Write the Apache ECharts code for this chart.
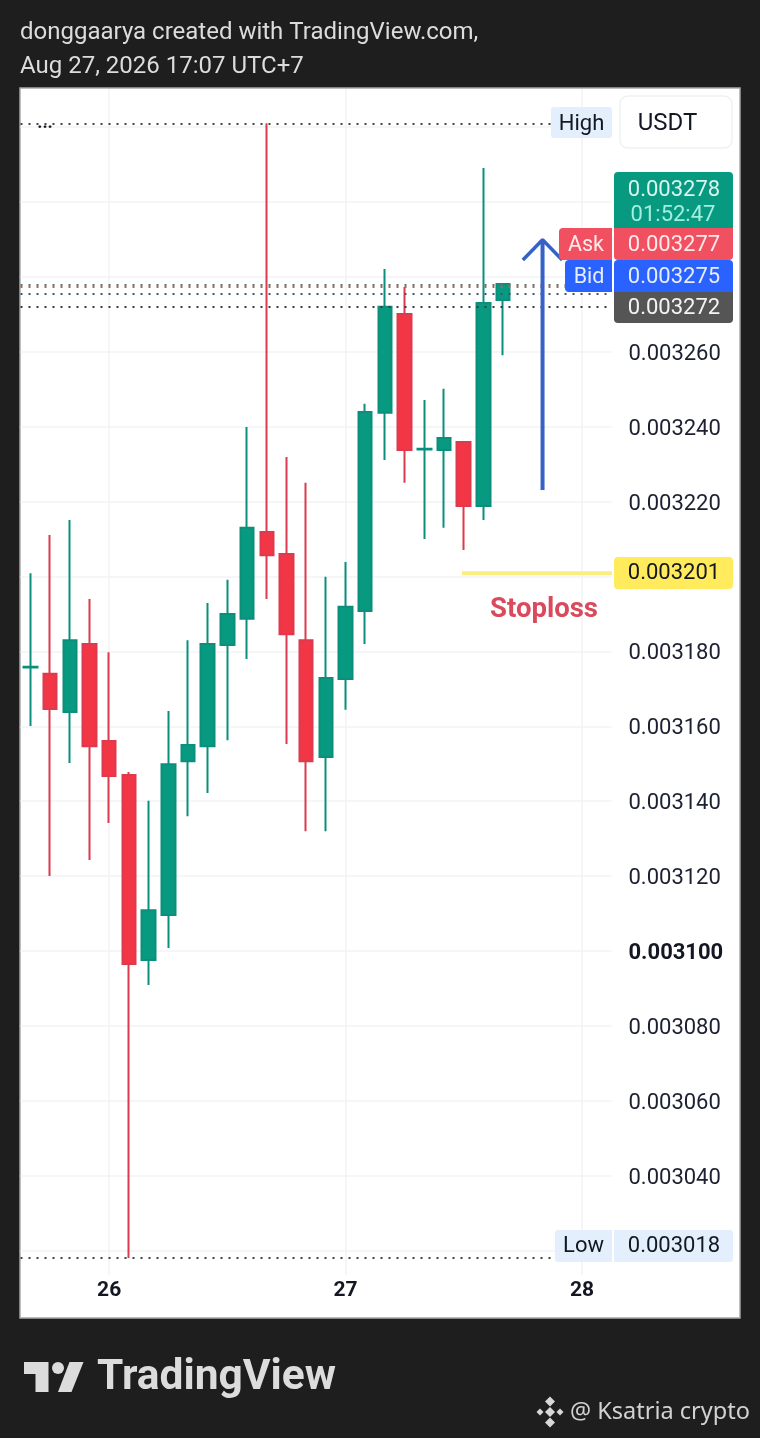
<!DOCTYPE html>
<html><head><meta charset="utf-8">
<style>html,body{margin:0;padding:0;background:#1e1e1e}#c{width:760px;height:1438px}</style>
<script src="https://cdn.jsdelivr.net/npm/echarts@6/dist/echarts.min.js"></script>
</head><body><div id="c"></div>
<script>
const opens  = [3175.7,3174.0,3163.8,3182.0,3156.1,3147.0,3097.6,3109.6,3150.7,3154.7,3181.7,3188.7,3211.9,3206.0,3183.0,3151.8,3172.6,3190.8,3243.7,3270.1,3233.9,3233.8,3235.9,3218.8,3273.8];
const closes = [3175.9,3164.6,3183.0,3154.7,3146.7,3096.5,3110.9,3149.9,3155.0,3182.0,3190.0,3213.0,3205.7,3184.6,3150.7,3172.9,3191.9,3243.9,3272.0,3233.8,3234.1,3237.0,3218.8,3273.0,3278.1];
const lows   = [3160.1,3120.0,3150.2,3124.3,3134.2,3018.0,3090.9,3100.8,3136.0,3142.2,3156.3,3178.0,3194.0,3155.3,3132.0,3132.0,3164.4,3182.0,3231.1,3225.0,3210.0,3213.0,3207.1,3215.1,3259.1];
const highs  = [3200.9,3211.1,3215.1,3194.0,3179.8,3147.8,3140.1,3164.1,3183.0,3192.9,3199.1,3239.9,3321.0,3231.9,3225.0,3199.9,3203.9,3246.1,3282.1,3277.3,3247.1,3250.1,3235.9,3309.1,3278.1];
const categories = ['','','','','26','','','','','','','','','','','','27','','','','','','','','','','','','28',''];
const yTicks = [3020,3040,3060,3080,3100,3120,3140,3160,3180,3200,3220,3240,3260,3280,3300,3320];
const yHidden = [3020,3200,3280,3300,3320];
const boldTick = 3100;
const highValue = 3321, lowValue = 3018;
const closeValue = 3278, askValue = 3277.3, bidValue = 3275.4, prevValue = 3272;
const stopValue = 3200.9;
const arrowShaft = [[26,3223.1],[26,3289.9]];
const arrowHead = [[25,3284.5],[26,3289.9],[27,3284.5]];
const fmt = v => (v/1e6).toFixed(6);

const UP='#089981', DOWN='#f23645', FONT='Roboto';
const candleData = opens.map((o,i)=>[o,closes[i],lows[i],highs[i]]);
const dot = (v,c)=>({yAxis:v,lineStyle:{color:c,type:[2,6],width:2}});

const panel = [
  {type:'rect',z:-10,silent:true,shape:{x:20,y:88,width:720,height:1230},style:{fill:'#fff',stroke:'#a8a8a8',lineWidth:1.5}},
];
const chart = echarts.init(document.getElementById('c'),null,{renderer:'canvas',width:760,height:1438});
chart.setOption({
  animation:false,
  backgroundColor:'#1e1e1e',
  grid:{left:20.5,width:591,top:89,height:1186,containLabel:false},
  xAxis:{type:'category',data:categories,boundaryGap:true,
    axisLine:{show:false},axisTick:{show:false},
    axisLabel:{show:true,interval:(i,v)=>v!=='',margin:5,color:'#131722',fontFamily:FONT,fontWeight:'bold',fontSize:21,lineHeight:22,hideOverlap:false},
    splitLine:{show:true,alignWithLabel:true,interval:(i,v)=>v!=='',lineStyle:{color:'#f2f3f5',width:1.5}}},
  yAxis:{type:'value',position:'right',min:3013.49,max:3330.17,scale:true,
    axisLine:{show:false},
    axisTick:{show:false,customValues:yTicks},
    splitLine:{show:true,lineStyle:{color:'#f2f3f5',width:1.5}},
    axisLabel:{show:true,margin:17,customValues:yTicks.filter(v=>!yHidden.includes(v)),padding:[5,0,0,0],
      fontFamily:FONT,fontSize:22,color:'#1c2030',
      formatter:v=> v===boldTick?'{b|'+fmt(v)+'}':fmt(v),
      rich:{b:{fontFamily:FONT,fontSize:22,fontWeight:'bold',color:'#131722'}}}},
  series:[
    {type:'candlestick',data:candleData,barWidth:14,z:3,
      itemStyle:{color:UP,color0:DOWN,borderColor:'#0b8f7c',borderColor0:'#dc3a4e',borderWidth:2},
      markLine:{silent:true,symbol:'none',label:{show:false},animation:false,z:4,
        data:[dot(highValue,'#444'),dot(lowValue,'#444'),dot(closeValue,'#4f7f76'),dot(askValue,'#a9685f'),dot(bidValue,'#3f5578'),dot(prevValue,'#3a3a3a')]}},
    {type:'line',data:arrowShaft,showSymbol:false,silent:true,z:5,lineStyle:{color:'#3561c8',width:4}},
    {type:'line',data:arrowHead,showSymbol:false,silent:true,z:5,lineStyle:{color:'#3561c8',width:3.5}}
  ],
  graphic:panel
});
const Y = v => chart.convertToPixel({yAxisIndex:0},v);

function box(x,y,w,h,fill,r,z,stroke){return {type:'rect',z:z||20,silent:true,shape:{x,y,width:w,height:h,r:r||0},style:{fill,stroke:stroke||null,lineWidth:stroke?1.5:0}};}
function txt(x,y,t,o){o=o||{};return {type:'text',z:o.z||21,silent:true,x,y:y+2,style:{text:t,fill:o.fill||'#131722',font:(o.weight||'400')+' '+(o.size||22)+'px '+(o.family||FONT),textAlign:o.align||'center',textVerticalAlign:'middle'}};}
function poly(points,fill){return {type:'polygon',z:21,silent:true,shape:{points},style:{fill}};}
function diamond(cx,cy,r,fill){return poly([[cx,cy-r],[cx+r,cy],[cx,cy+r],[cx-r,cy]],fill);}

const TAG_X=614,TAG_W=119,TAG_C=TAG_X+TAG_W/2;
const els = panel.concat([
  txt(20,31,'donggaarya created with TradingView.com,',{align:'left',size:24,fill:'#dcdcdc'}),
  txt(20,65,'Aug 27, 2026 17:07 UTC+7',{align:'left',size:24,fill:'#dcdcdc'}),
  txt(45,Y(highValue)-2,'...',{size:18,weight:'700',fill:'#131722'}),
  box(620,96,112,52,'#fff',8,20,'#eff1f5'),
  txt(667.5,122,'USDT',{size:24}),
  box(551,107,61,31,'#e3effd',3),
  txt(581.5,122,'High',{size:22}),
  box(TAG_X,172,TAG_W,57,UP,[4,4,0,0]),
  txt(TAG_C+.5,188,fmt(closeValue),{size:22,fill:'#d8f5ef'}),
  txt(TAG_C-.5,213,'01:52:47',{size:22,fill:'#a2efdf'}),
  box(559,228,53,32,'#f0505f',[4,0,0,4]),
  txt(586,243.5,'Ask',{size:21.5,fill:'#ffe9ea'}),
  box(TAG_X,228,TAG_W,32,'#f0505f',[0,0,4,4]),
  txt(TAG_C+.5,243.5,fmt(3277),{size:22,fill:'#ffe9ea'}),
  box(565,260,47,32,'#2962ff',[4,0,0,4]),
  txt(589,275.5,'Bid',{size:21.5,fill:'#e6edff'}),
  box(TAG_X,260,TAG_W,32,'#2962ff',[4,4,0,0]),
  txt(TAG_C+.5,275.5,fmt(3275),{size:22,fill:'#e6edff'}),
  box(TAG_X,292,TAG_W,31,'#555555',[0,0,4,4]),
  txt(TAG_C+.5,306,fmt(prevValue),{size:22,fill:'#f4f4f4'}),
  {type:'line',z:6,silent:true,shape:{x1:462,y1:Y(stopValue),x2:612,y2:Y(stopValue)},style:{stroke:'#fbee80',lineWidth:4}},
  box(TAG_X,557,TAG_W,32,'#ffeb5b',4),
  txt(TAG_C+.5,571.5,fmt(3201),{size:22}),
  txt(544,608,'Stoploss',{size:27.5,weight:'700',fill:'#d94a5c'}),
  box(555,1230,57,32,'#e3effd',[3,0,0,3]),
  box(TAG_X,1230,TAG_W,32,'#e3effd',[0,3,3,0]),
  txt(583.5,1244.5,'Low',{size:22}),
  txt(TAG_C+.5,1244.5,fmt(lowValue),{size:22}),
  poly([[24,1362],[48.5,1362],[48.5,1392],[35.5,1392],[35.5,1374],[24,1374]],'#dcdcdc'),
  {type:'circle',z:21,silent:true,shape:{cx:58,cy:1368,r:6},style:{fill:'#dcdcdc'}},
  poly([[69.5,1362],[83.5,1362],[71.5,1392],[58,1392]],'#dcdcdc'),
  txt(97,1376,'TradingView',{align:'left',size:42.5,weight:'700',fill:'#dcdcdc'}),
  diamond(550,1412,5,'#d8d8d8'),
  diamond(550,1401.5,5,'#d8d8d8'),diamond(550,1422.5,5,'#d8d8d8'),
  diamond(540,1412,3.5,'#d8d8d8'),diamond(560,1412,3.5,'#d8d8d8'),
  txt(570,1410.5,'@ Ksatria crypto',{align:'left',size:23.5,family:'"Noto Sans"',fill:'#d2d2d2'})
]);
chart.setOption({graphic:{elements:els}},{replaceMerge:['graphic']});
</script></body></html>
